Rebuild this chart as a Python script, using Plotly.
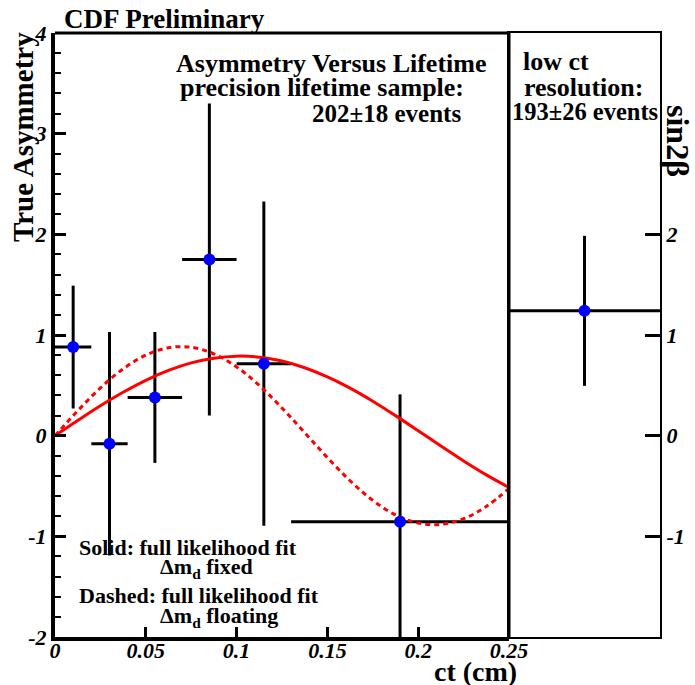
import plotly.graph_objects as go

# ---------------- data ----------------
ct_centers = [0.01, 0.03, 0.055, 0.085, 0.115, 0.19]
ct_halfwidth = [0.01, 0.01, 0.015, 0.015, 0.015, 0.06]
asymmetry = [0.88, -0.08, 0.38, 1.75, 0.715, -0.855]
asymmetry_err = [0.61, 1.11, 0.65, 1.55, 1.61, 1.265]

lowct_x = [0.5]
lowct_halfwidth = [0.5]
lowct_sin2b = [1.24]
lowct_err = [0.745]

curve_ct = [0.0, 0.0125, 0.025, 0.0375, 0.05, 0.0625, 0.075, 0.0875, 0.1, 0.1125,
            0.125, 0.1375, 0.15, 0.1625, 0.175, 0.1875, 0.2, 0.2125, 0.225, 0.2375, 0.25]
solid_fit = [0.0, 0.151, 0.297, 0.431, 0.550, 0.648, 0.723, 0.770, 0.790, 0.780,
             0.741, 0.675, 0.584, 0.472, 0.342, 0.199, 0.049, -0.103, -0.251, -0.389, -0.514]
dashed_fit = [0.0, 0.247, 0.474, 0.663, 0.800, 0.874, 0.878, 0.813, 0.683, 0.499,
              0.275, 0.030, -0.218, -0.448, -0.643, -0.787, -0.868, -0.881, -0.825, -0.704, -0.524]

x_tickvals = [0, 0.05, 0.1, 0.15, 0.2, 0.25]
x_ticktext = ["0", "0.05", "0.1", "0.15", "0.2", "0.25"]
y_tickvals = [-2, -1, 0, 1, 2, 3, 4]
y_ticktext = ["-2", "-1", "0", "1", "2", "3", "4"]
y2_tickvals = [-1, 0, 1, 2]
y2_ticktext = ["-1", "0", "1", "2"]

# ---------------- layout helpers ----------------
W, H = 695, 685
ML, MR, MT, MB = 55, 35, 33, 48
PW, PH = W - ML - MR, H - MT - MB
SPLIT = (509 - ML) / PW


def px(x):
    return (x - ML) / PW


def py(y):
    return (H - MB - y) / PH


SERIF = "Liberation Serif"
tickfont = dict(family=SERIF, size=22, color="black", weight="bold", style="italic")

fig = go.Figure()

# error bars (left panel)
fig.add_trace(go.Scatter(
    x=ct_centers, y=asymmetry, mode="markers",
    marker=dict(size=1, color="rgba(0,0,0,0)"),
    error_x=dict(type="data", array=ct_halfwidth, color="black", thickness=3, width=0),
    error_y=dict(type="data", array=asymmetry_err, color="black", thickness=3, width=0),
    xaxis="x", yaxis="y", showlegend=False, hoverinfo="skip"))

# fit curves
fig.add_trace(go.Scatter(
    x=curve_ct, y=solid_fit, mode="lines",
    line=dict(color="#ff0000", width=3, shape="spline", smoothing=1),
    xaxis="x", yaxis="y", showlegend=False))
fig.add_trace(go.Scatter(
    x=curve_ct, y=dashed_fit, mode="lines",
    line=dict(color="#ff0000", width=3, dash="5px,4px", shape="spline", smoothing=1),
    xaxis="x", yaxis="y", showlegend=False))

# markers on top
fig.add_trace(go.Scatter(
    x=ct_centers, y=asymmetry, mode="markers",
    marker=dict(size=12, color="#0000ff"),
    xaxis="x", yaxis="y", showlegend=False))

# low ct panel
fig.add_trace(go.Scatter(
    x=lowct_x, y=lowct_sin2b, mode="markers",
    marker=dict(size=12, color="#0000ff"),
    error_x=dict(type="data", array=lowct_halfwidth, color="black", thickness=3, width=0),
    error_y=dict(type="data", array=lowct_err, color="black", thickness=3, width=0),
    xaxis="x2", yaxis="y2", showlegend=False))

fig.update_layout(
    width=W, height=H,
    margin=dict(l=ML, r=MR, t=MT, b=MB, pad=0),
    paper_bgcolor="white", plot_bgcolor="white",
    font=dict(family=SERIF, color="black"),
    xaxis=dict(domain=[0, SPLIT], range=[0, 0.25], anchor="y", automargin=False,
               showline=True, linewidth=4, linecolor="black", mirror=False,
               ticks="inside", ticklen=10, tickwidth=3, tickcolor="black",
               tickvals=x_tickvals, ticktext=x_ticktext, tickfont=tickfont,
               ticklabelstandoff=-9,
               showgrid=False, zeroline=False),
    yaxis=dict(domain=[0, 1], range=[-2, 4], anchor="x", automargin=False,
               showline=True, linewidth=4, linecolor="black", mirror=False,
               ticks="inside", ticklen=11, tickwidth=3, tickcolor="black",
               tickvals=y_tickvals, ticktext=y_ticktext, tickfont=tickfont,
               minor=dict(dtick=0.2, ticks="inside", ticklen=6, tickwidth=2, tickcolor="black"),
               showgrid=False, zeroline=False),
    xaxis2=dict(domain=[SPLIT, 1], range=[0, 1], anchor="y2", automargin=False,
                showline=True, linewidth=2, linecolor="black", mirror=True,
                showticklabels=False, ticks="", showgrid=False, zeroline=False),
    yaxis2=dict(domain=[0, 1], range=[-2, 4], anchor="x2", side="right", automargin=False,
                showline=True, linewidth=2, linecolor="black", mirror=True,
                ticks="inside", ticklen=15, tickwidth=3, tickcolor="black",
                tickvals=y2_tickvals, ticktext=y2_ticktext, tickfont=tickfont,
                showgrid=False, zeroline=False),
)

# frame lines
fig.add_shape(type="line", xref="paper", yref="paper", x0=0, x1=SPLIT, y0=1, y1=1,
              line=dict(color="black", width=3))
fig.add_shape(type="line", xref="paper", yref="paper", x0=SPLIT, x1=SPLIT, y0=0, y1=1,
              line=dict(color="black", width=3))


def ann(text, x, y, size, xanchor="center", angle=0):
    fig.add_annotation(text=text, xref="paper", yref="paper", x=px(x), y=py(y),
                       xanchor=xanchor, yanchor="middle", showarrow=False, textangle=angle,
                       font=dict(family=SERIF, size=size, color="black", weight="bold"))


ann("CDF Preliminary", 62, 18.5, 27, "left")
ann("Asymmetry Versus Lifetime", 331, 63.4, 26)
ann("precision lifetime sample:", 322, 87.5, 26)
ann("202±18 events", 463, 113.4, 25, "right")
ann("low ct", 521, 62, 26, "left")
ann("resolution:", 522, 87, 26, "left")
ann("193±26 events", 510, 112, 24.5, "left")
ann("Solid: full likelihood fit", 77, 547.5, 22, "left")
ann("Δm<sub>d</sub> fixed", 158, 568, 22, "left")
ann("Dashed: full likelihood fit", 77, 595, 22, "left")
ann("Δm<sub>d</sub> floating", 158, 617, 22, "left")
ann("True Asymmetry", 23, 137, 29, "center", -90)
ann("ct (cm)", 475, 671, 28)
ann("sin2β", 678, 141, 32, "center", 90)

fig.write_html("out.html")
